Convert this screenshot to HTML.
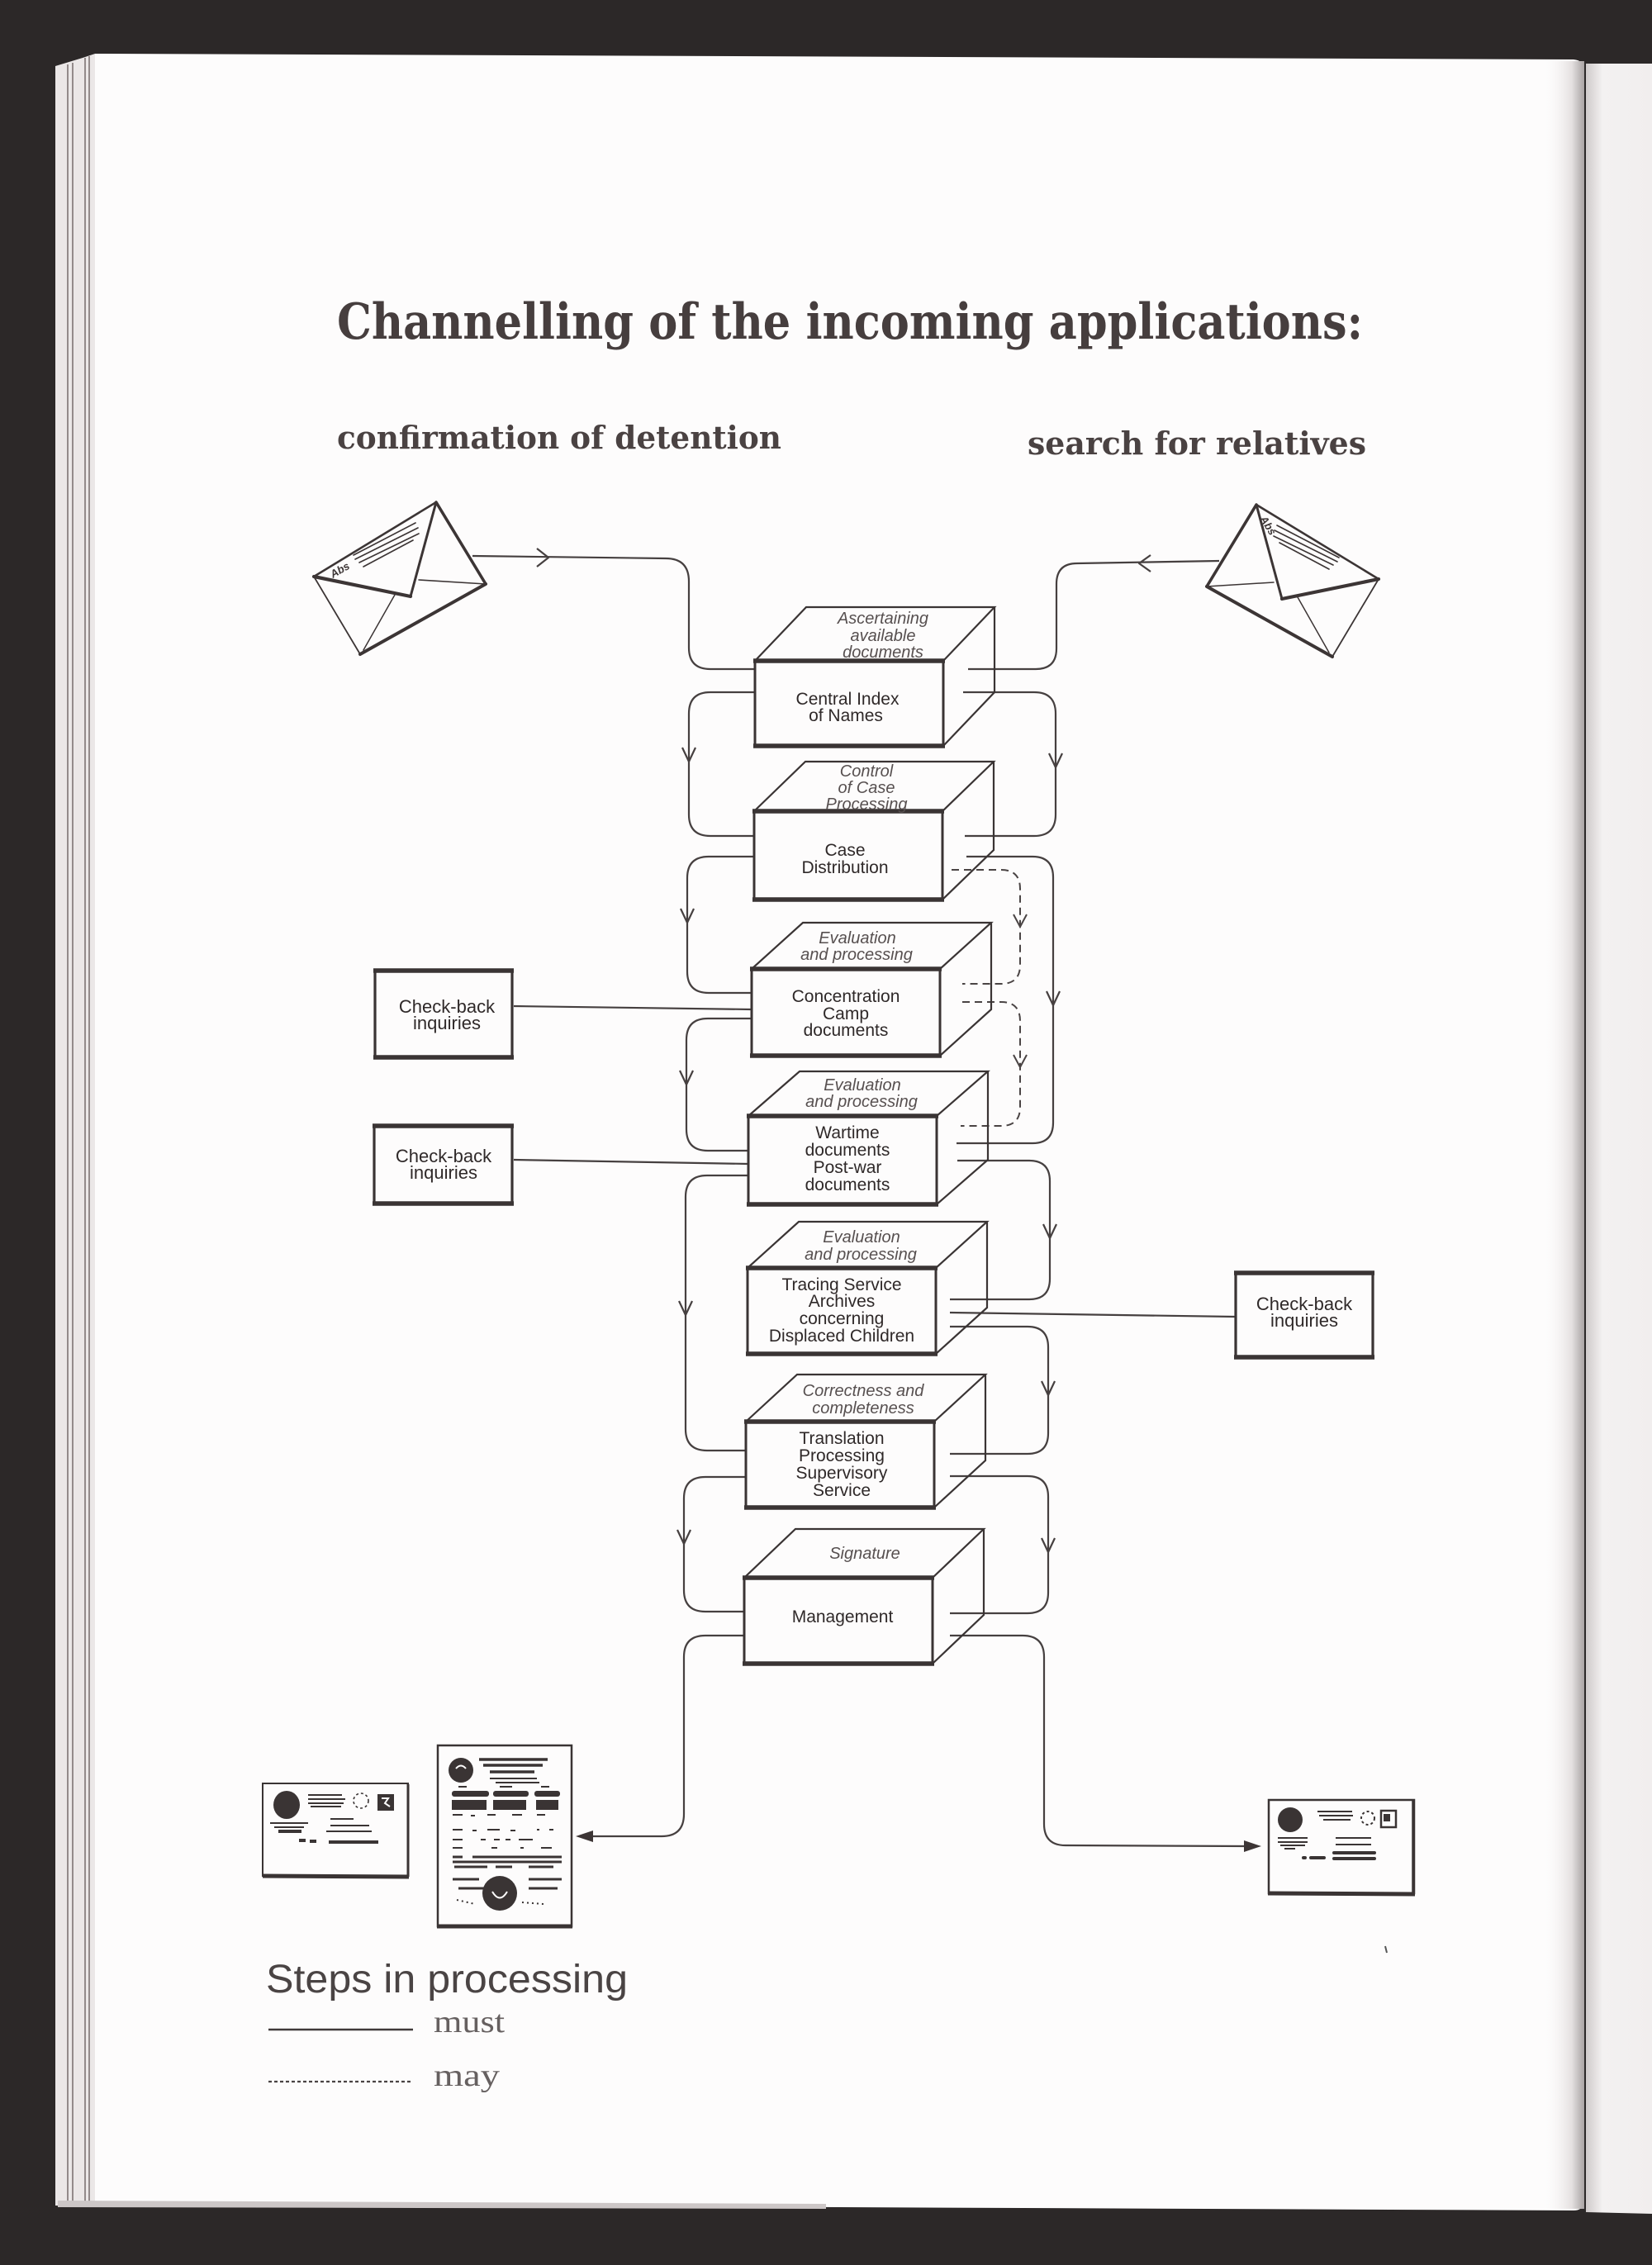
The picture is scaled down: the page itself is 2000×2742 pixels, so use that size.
<!DOCTYPE html>
<html><head><meta charset="utf-8"><style>
html,body{margin:0;padding:0;background:#2c2828;}
svg{display:block}
</style></head><body>
<svg width="2000" height="2742" viewBox="0 0 2000 2742" xmlns="http://www.w3.org/2000/svg">
<defs>
<linearGradient id="rs" x1="0" y1="0" x2="1" y2="0">
<stop offset="0" stop-color="#fdfcfc" stop-opacity="0"/>
<stop offset="0.7" stop-color="#e4e0e0"/>
<stop offset="1" stop-color="#a9a3a3"/>
</linearGradient>
<linearGradient id="sl" x1="0" y1="0" x2="1" y2="0">
<stop offset="0" stop-color="#cfcaca"/>
<stop offset="0.25" stop-color="#f3f1f1"/>
<stop offset="1" stop-color="#f1eeee"/>
</linearGradient>
</defs>
<rect width="2000" height="2742" fill="#2c2828"/>
<!-- right sliver page -->
<path d="M1920,77 L2000,77 L2000,2680 L1920,2678 Z" fill="url(#sl)"/>
<!-- stacked page edges left -->
<path d="M67,80 L100,70 L115,65 L115,2672 L67,2670 Z" fill="#ebe7e7"/>
<g stroke="#7d7474" stroke-width="1.6">
<line x1="82" y1="78" x2="82" y2="2668"/>
<line x1="88" y1="76" x2="88" y2="2668"/>
<line x1="103" y1="70" x2="103" y2="2670"/>
<line x1="108" y1="68" x2="108" y2="2670"/>
</g>
<!-- main page -->
<path d="M115,65 L1905,72 Q1918,73 1918,86 L1918,2662 Q1918,2676 1905,2676 L115,2668 Z" fill="#fdfcfc"/>
<rect x="1868" y="74" width="50" height="2600" fill="url(#rs)"/>
<path d="M70,2664 L1000,2668 L1000,2674 L70,2672 Z" fill="#cdc7c7"/>

<!-- TITLES -->
<text x="408" y="410" font-family="DejaVu Serif, Liberation Serif, serif" font-weight="bold" font-size="60" textLength="1242" lengthAdjust="spacingAndGlyphs" fill="#463e3e">Channelling of the incoming applications:</text>
<text x="408" y="543" font-family="DejaVu Serif, Liberation Serif, serif" font-weight="bold" font-size="38" textLength="538" lengthAdjust="spacingAndGlyphs" fill="#4a4242">confirmation of detention</text>
<text x="1244" y="550" font-family="DejaVu Serif, Liberation Serif, serif" font-weight="bold" font-size="38" textLength="410" lengthAdjust="spacingAndGlyphs" fill="#4a4242">search for relatives</text>

<!-- LEFT ENVELOPE -->
<g id="env" stroke="#3c3535" fill="none" stroke-linejoin="round" stroke-linecap="round">
<path d="M528,608 L380,698" stroke-width="2.6"/>
<path d="M380,698 L436,792" stroke-width="1.8"/>
<path d="M436,792 L588,707" stroke-width="4"/>
<path d="M588,707 L528,608" stroke-width="3.6"/>
<path d="M380,698 L497,722" stroke-width="4.2"/>
<path d="M497,722 L528,608" stroke-width="3"/>
<path d="M478,720 L440,787" stroke-width="1.5"/>
<path d="M507,702 L588,707" stroke-width="1.5"/>
<path d="M428,672 L503,633 M430,677 L506,639 M435,681 L507,646 M440,686 L500,654" stroke-width="1.6"/>
</g>
<text transform="translate(403,700) rotate(-30)" font-family="Liberation Sans, sans-serif" font-weight="bold" font-style="italic" font-size="13" fill="#3c3535">Abs</text>

<!-- RIGHT ENVELOPE (mirror) -->
<g transform="translate(2049,3) scale(-1,1)" stroke="#3c3535" fill="none" stroke-linejoin="round" stroke-linecap="round">
<path d="M528,608 L380,698" stroke-width="2.6"/>
<path d="M380,698 L436,792" stroke-width="1.8"/>
<path d="M436,792 L588,707" stroke-width="4"/>
<path d="M588,707 L528,608" stroke-width="3.6"/>
<path d="M380,698 L497,722" stroke-width="4.2"/>
<path d="M497,722 L528,608" stroke-width="3"/>
<path d="M478,720 L440,787" stroke-width="1.5"/>
<path d="M507,702 L588,707" stroke-width="1.5"/>
<path d="M428,672 L503,633 M430,677 L506,639 M435,681 L507,646 M440,686 L500,654" stroke-width="1.6"/>
</g>
<text transform="translate(1525,628) rotate(58)" font-family="Liberation Sans, sans-serif" font-weight="bold" font-style="italic" font-size="13" fill="#3c3535">Abs</text>

<!-- CONNECTORS solid -->
<g stroke="#464040" stroke-width="2.2" fill="none" stroke-linejoin="round">
<path d="M572,673 L806,676 Q834,676 834,704 L834,784 Q834,810 860,810 L914,810"/>
<path d="M914,838 L860,838 Q834,838 834,864 L834,986 Q834,1012 860,1012 L913,1012"/>
<path d="M913,1037 L858,1037 Q832,1037 832,1063 L832,1176 Q832,1202 858,1202 L910,1202"/>
<path d="M910,1233 L857,1233 Q831,1233 831,1259 L831,1367 Q831,1393 857,1393 L906,1393"/>
<path d="M906,1423 L856,1423 Q830,1423 830,1449 L830,1730 Q830,1756 856,1756 L903,1756"/>
<path d="M903,1788 L854,1788 Q828,1788 828,1814 L828,1925 Q828,1951 854,1951 L901,1951"/>
<path d="M901,1980 L854,1980 Q828,1980 828,2006 L828,2196 Q828,2223 801,2223 L712,2223"/>

<path d="M1476,679 L1304,682 Q1279,682 1279,707 L1279,785 Q1279,810 1254,810 L1172,810"/>
<path d="M1166,838 L1252,838 Q1278,838 1278,864 L1278,986 Q1278,1012 1252,1012 L1168,1012"/>
<path d="M1170,1037 L1250,1037 Q1275,1037 1275,1062 L1275,1359 Q1275,1384 1250,1384 L1158,1384"/>
<path d="M1159,1405 L1246,1405 Q1271,1405 1271,1430 L1271,1548 Q1271,1573 1246,1573 L1150,1573"/>
<path d="M1150,1606 L1244,1606 Q1269,1606 1269,1631 L1269,1735 Q1269,1760 1244,1760 L1150,1760"/>
<path d="M1150,1787 L1244,1787 Q1269,1787 1269,1812 L1269,1928 Q1269,1953 1244,1953 L1150,1953"/>
<path d="M1150,1980 L1238,1980 Q1264,1980 1264,2006 L1264,2208 Q1264,2234 1290,2234 L1510,2235"/>

<!-- check-back connectors -->
<path d="M622,1218 L910,1222"/>
<path d="M622,1404 L906,1409"/>
<path d="M1150,1589 L1495,1594"/>

<!-- chevrons -->
<path d="M650,664 L664,675 L650,686"/>
<path d="M1393,672 L1379,682 L1393,692"/>
<path d="M826,905 L834,922 L842,905"/>
<path d="M824,1100 L832,1117 L840,1100"/>
<path d="M823,1296 L831,1313 L839,1296"/>
<path d="M822,1575 L830,1592 L838,1575"/>
<path d="M820,1852 L828,1869 L836,1852"/>
<path d="M1270,912 L1278,929 L1286,912"/>
<path d="M1267,1200 L1275,1217 L1283,1200"/>
<path d="M1263,1482 L1271,1499 L1279,1482"/>
<path d="M1261,1672 L1269,1689 L1277,1672"/>
<path d="M1261,1862 L1269,1879 L1277,1862"/>
</g>
<!-- filled arrowheads -->
<path d="M697,2223 L718,2216 L718,2230 Z" fill="#3c3535"/>
<path d="M1527,2235 L1506,2228 L1506,2242 Z" fill="#3c3535"/>

<!-- dashed connectors -->
<g stroke="#4a4444" stroke-width="2" fill="none" stroke-dasharray="9 6">
<path d="M1152,1053 L1212,1053 Q1235,1053 1235,1076 L1235,1168 Q1235,1191 1212,1191 L1165,1191"/>
<path d="M1165,1213 L1212,1213 Q1235,1213 1235,1236 L1235,1340 Q1235,1363 1212,1363 L1163,1363"/>
</g>
<g stroke="#4a4444" stroke-width="2" fill="none">
<path d="M1227,1107 L1235,1122 L1243,1107"/>
<path d="M1227,1277 L1235,1292 L1243,1277"/>
</g>

<!-- BOXES -->
<g stroke="#3a3434" fill="none" stroke-linejoin="miter">
<!-- box1 L914 T800 B903 dy-65 -->
<path d="M914,800 L976,735 L1204,735 L1142,800 M1204,735 L1204,838 L1142,903" stroke-width="2.2"/>
<path d="M914,800 L914,903 M1142,800 L1142,903" stroke-width="3"/>
<path d="M912,800 L1144,800 M912,903 L1144,903" stroke-width="5.5"/>
<!-- box2 L913 T982 B1089 dy-60 -->
<path d="M913,982 L975,922 L1203,922 L1141,982 M1203,922 L1203,1029 L1141,1089" stroke-width="2.2"/>
<path d="M913,982 L913,1089 M1141,982 L1141,1089" stroke-width="3"/>
<path d="M911,982 L1143,982 M911,1089 L1143,1089" stroke-width="5.5"/>
<!-- box3 L910 T1173 B1278 dy-56 -->
<path d="M910,1173 L972,1117 L1200,1117 L1138,1173 M1200,1117 L1200,1222 L1138,1278" stroke-width="2.2"/>
<path d="M910,1173 L910,1278 M1138,1173 L1138,1278" stroke-width="3"/>
<path d="M908,1173 L1140,1173 M908,1278 L1140,1278" stroke-width="5.5"/>
<!-- box4 L906 T1351 B1458 dy-54 -->
<path d="M906,1351 L968,1297 L1196,1297 L1134,1351 M1196,1297 L1196,1404 L1134,1458" stroke-width="2.2"/>
<path d="M906,1351 L906,1458 M1134,1351 L1134,1458" stroke-width="3"/>
<path d="M904,1351 L1136,1351 M904,1458 L1136,1458" stroke-width="5.5"/>
<!-- box5 L905 T1535 B1639 dy-56 -->
<path d="M905,1535 L967,1479 L1195,1479 L1133,1535 M1195,1479 L1195,1583 L1133,1639" stroke-width="2.2"/>
<path d="M905,1535 L905,1639 M1133,1535 L1133,1639" stroke-width="3"/>
<path d="M903,1535 L1135,1535 M903,1639 L1135,1639" stroke-width="5.5"/>
<!-- box6 L903 T1721 B1825 dy-57 -->
<path d="M903,1721 L965,1664 L1193,1664 L1131,1721 M1193,1664 L1193,1768 L1131,1825" stroke-width="2.2"/>
<path d="M903,1721 L903,1825 M1131,1721 L1131,1825" stroke-width="3"/>
<path d="M901,1721 L1133,1721 M901,1825 L1133,1825" stroke-width="5.5"/>
<!-- box7 L901 T1910 B2014 dy-59 -->
<path d="M901,1910 L963,1851 L1191,1851 L1129,1910 M1191,1851 L1191,1955 L1129,2014" stroke-width="2.2"/>
<path d="M901,1910 L901,2014 M1129,1910 L1129,2014" stroke-width="3"/>
<path d="M899,1910 L1131,1910 M899,2014 L1131,2014" stroke-width="5.5"/>

<!-- check-back boxes -->
<rect x="454" y="1175" width="166" height="105" stroke-width="3.2"/>
<path d="M452,1175 L622,1175 M452,1280 L622,1280" stroke-width="5.5"/>
<rect x="453" y="1363" width="167" height="94" stroke-width="3.2"/>
<path d="M451,1363 L622,1363 M451,1457 L622,1457" stroke-width="5.5"/>
<rect x="1496" y="1541" width="166" height="102" stroke-width="3.2"/>
<path d="M1494,1541 L1664,1541 M1494,1643 L1664,1643" stroke-width="5.5"/>
</g>

<!-- BOX TEXT: top faces (italic) -->
<g font-family="Liberation Sans, Arial, sans-serif" font-style="italic" font-size="20" fill="#575050" text-anchor="middle">
<text x="1069" y="755">Ascertaining</text>
<text x="1069" y="776">available</text>
<text x="1069" y="796">documents</text>
<text x="1049" y="940">Control</text>
<text x="1049" y="960">of Case</text>
<text x="1049" y="980">Processing</text>
<text x="1038" y="1142">Evaluation</text>
<text x="1037" y="1162">and processing</text>
<text x="1044" y="1320">Evaluation</text>
<text x="1043" y="1340">and processing</text>
<text x="1043" y="1504">Evaluation</text>
<text x="1042" y="1525">and processing</text>
<text x="1045" y="1690">Correctness and</text>
<text x="1045" y="1711">completeness</text>
<text x="1047" y="1887">Signature</text>
</g>
<!-- BOX TEXT: fronts -->
<g font-family="Liberation Sans, Arial, sans-serif" font-size="21" fill="#2f2929" text-anchor="middle">
<text x="1026" y="853">Central Index</text>
<text x="1024" y="873">of Names</text>
<text x="1023" y="1036">Case</text>
<text x="1023" y="1057">Distribution</text>
<text x="1024" y="1213">Concentration</text>
<text x="1024" y="1234">Camp</text>
<text x="1024" y="1254">documents</text>
<text x="1026" y="1378">Wartime</text>
<text x="1026" y="1399">documents</text>
<text x="1026" y="1420">Post-war</text>
<text x="1026" y="1441">documents</text>
<text x="1019" y="1562">Tracing Service</text>
<text x="1019" y="1582">Archives</text>
<text x="1019" y="1603">concerning</text>
<text x="1019" y="1624">Displaced Children</text>
<text x="1019" y="1748">Translation</text>
<text x="1019" y="1769">Processing</text>
<text x="1019" y="1790">Supervisory</text>
<text x="1019" y="1811">Service</text>
<text x="1020" y="1964">Management</text>
<text x="541" y="1226" font-size="22">Check-back</text>
<text x="541" y="1246" font-size="22">inquiries</text>
<text x="537" y="1407" font-size="22">Check-back</text>
<text x="537" y="1427" font-size="22">inquiries</text>
<text x="1579" y="1586" font-size="22">Check-back</text>
<text x="1579" y="1606" font-size="22">inquiries</text>
</g>

<!-- LEFT SMALL CARD -->
<g fill="#3a3434" stroke="#3a3434">
<rect x="318" y="2159" width="176" height="112" fill="none" stroke-width="2"/>
<path d="M318,2271 L495,2272" stroke-width="5" fill="none"/>
<path d="M494,2160 L494,2272" stroke-width="3" fill="none"/>
<ellipse cx="347" cy="2185" rx="16" ry="17" stroke="none"/>
<g stroke-width="2" fill="none">
<path d="M327,2207 L373,2207 M332,2212 L368,2212 M373,2173 L414,2173 M373,2178 L418,2178 M373,2183 L416,2183 M376,2187 L413,2187 M400,2202 L428,2202 M400,2210 L447,2210 M395,2217 L450,2217"/>
<path d="M337,2217 L365,2217" stroke-width="4"/>
<path d="M398,2230 L458,2230" stroke-width="4"/>
<path d="M362,2228 L370,2228 M375,2229 L383,2229" stroke-width="4"/>
<circle cx="437" cy="2180" r="9" stroke-width="1.6" stroke-dasharray="3 3"/>
</g>
<rect x="457" y="2172" width="20" height="20" stroke="none"/>
<path d="M462,2177 L470,2177 L466,2183 L472,2187" stroke="#fdfcfc" stroke-width="2" fill="none"/>
</g>

<!-- TALL DOCUMENT -->
<g fill="#3a3434" stroke="#3a3434">
<rect x="530" y="2113" width="162" height="219" fill="none" stroke-width="2.5"/>
<path d="M529,2332 L693,2332" stroke-width="5" fill="none"/>
<circle cx="558" cy="2143" r="15" stroke="none"/>
<path d="M552,2141 Q558,2134 564,2141" stroke="#fdfcfc" stroke-width="2" fill="none"/>
<g stroke-width="3.5" fill="none">
<path d="M580,2130 L663,2130 M585,2137 L657,2137 M593,2145 L647,2145"/>
</g>
<g stroke-width="2" fill="none">
<path d="M593,2153 L650,2153 M600,2158 L653,2158 M555,2163 L565,2163 M605,2163 L620,2163 M655,2163 L665,2163"/>
</g>
<rect x="547" y="2168" width="45" height="7" rx="3" stroke="none"/>
<rect x="597" y="2168" width="43" height="7" rx="3" stroke="none"/>
<rect x="647" y="2168" width="31" height="7" rx="3" stroke="none"/>
<rect x="547" y="2179" width="42" height="12" stroke="none"/>
<rect x="597" y="2179" width="40" height="12" stroke="none"/>
<rect x="649" y="2179" width="27" height="12" stroke="none"/>
<g stroke-width="2" fill="none">
<path d="M548,2197 L560,2197 M570,2198 L575,2198 M590,2197 L600,2197 M620,2197 L632,2197 M650,2197 L660,2197"/>
<path d="M548,2215 L560,2215 M572,2216 L577,2216 M590,2215 L605,2215 M618,2216 L624,2216 M650,2215 L653,2215 M665,2215 L670,2215"/>
<path d="M548,2227 L560,2227 M582,2227 L588,2227 M598,2227 L605,2227 M612,2227 L618,2227 M628,2227 L645,2227"/>
<path d="M548,2237 L560,2237 M595,2237 L602,2237 M630,2237 L634,2237 M655,2237 L668,2237"/>
</g>
<g stroke-width="3" fill="none">
<path d="M548,2248 L560,2248 M572,2248 L680,2248 M548,2254 L680,2254 M550,2260 L590,2260 M600,2260 L620,2260 M640,2260 L670,2260"/>
<path d="M548,2275 L580,2275 M640,2275 L680,2275 M555,2286 L600,2286 M640,2286 L675,2286"/>
</g>
<circle cx="605" cy="2292" r="21" stroke="none"/>
<path d="M596,2290 Q605,2305 614,2290" stroke="#fdfcfc" stroke-width="2" fill="none"/>
<g stroke-width="2" fill="none" stroke-dasharray="2 4">
<path d="M553,2300 L575,2305 M632,2303 L658,2305"/>
</g>
</g>

<!-- RIGHT CARD -->
<g fill="#3a3434" stroke="#3a3434">
<rect x="1536" y="2179" width="176" height="113" fill="none" stroke-width="2.5"/>
<path d="M1535,2292 L1713,2293" stroke-width="5" fill="none"/>
<path d="M1711,2179 L1711,2293" stroke-width="3.5" fill="none"/>
<circle cx="1562" cy="2203" r="15" stroke="none"/>
<g stroke-width="2" fill="none">
<path d="M1547,2225 L1583,2225 M1547,2230 L1583,2230 M1550,2234 L1580,2234 M1555,2238 L1568,2238"/>
<path d="M1595,2193 L1637,2193 M1597,2198 L1638,2198 M1602,2203 L1635,2203"/>
<path d="M1617,2225 L1660,2225 M1617,2233 L1660,2233"/>
<circle cx="1656" cy="2201" r="8" stroke-dasharray="3 3"/>
<rect x="1672" y="2192" width="18" height="20" stroke-width="2.5"/>
</g>
<rect x="1675" y="2196" width="8" height="9" stroke="none"/>
<g stroke-width="4" fill="none" stroke-linecap="round">
<path d="M1615,2243 L1664,2243 M1615,2250 L1664,2250 M1578,2249 L1580,2249 M1587,2249 L1603,2249"/>
</g>
</g>

<!-- LEGEND -->
<text x="322" y="2412" font-family="Liberation Sans, Arial, sans-serif" font-size="48" textLength="438" lengthAdjust="spacingAndGlyphs" fill="#4a4444">Steps in processing</text>
<line x1="325" y1="2457" x2="500" y2="2457" stroke="#403a3a" stroke-width="2.6"/>
<text x="525" y="2460" font-family="Liberation Serif, serif" font-size="38" textLength="86" lengthAdjust="spacingAndGlyphs" fill="#666060">must</text>
<line x1="325" y1="2520" x2="500" y2="2520" stroke="#4a4444" stroke-width="2.2" stroke-dasharray="4 3"/>
<text x="525" y="2525" font-family="Liberation Serif, serif" font-size="38" textLength="80" lengthAdjust="spacingAndGlyphs" fill="#666060">may</text>

<path d="M1677,2356 L1679,2364" stroke="#555" stroke-width="2"/>
</svg>
</body></html>
